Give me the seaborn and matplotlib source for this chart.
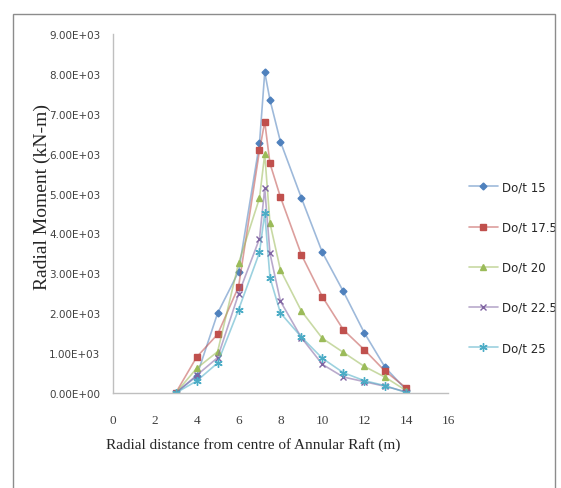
import matplotlib
matplotlib.use("Agg")
import matplotlib.pyplot as plt
import seaborn as sns
from matplotlib.colors import to_rgba
from matplotlib.patches import Rectangle
from matplotlib.ticker import FuncFormatter, MultipleLocator

# distance from centre (m)
radial_dist = [3, 4, 5, 6, 7, 7.25, 7.5, 8, 9, 10, 11, 12, 13, 14]

# radial moment (kN-m) for each Do/t ratio
do_t_15 = [0, 420, 2000, 3040, 6260, 8040, 7350, 6300, 4890, 3525, 2548, 1512, 640, 80]
do_t_17_5 = [0, 900, 1470, 2665, 6080, 6800, 5756, 4912, 3467, 2414, 1587, 1086, 545, 130]
do_t_20 = [0, 618, 1036, 3250, 4887, 5990, 4260, 3083, 2055, 1370, 1019, 668, 395, 60]
do_t_22_5 = [0, 443, 885, 2481, 3870, 5130, 3500, 2300, 1387, 718, 401, 284, 167, 30]
do_t_25 = [0, 300, 752, 2088, 3525, 4510, 2890, 2005, 1403, 869, 510, 309, 184, 10]

labels = ["Do/t 15", "Do/t 17.5", "Do/t 20", "Do/t 22.5", "Do/t 25"]
series = [do_t_15, do_t_17_5, do_t_20, do_t_22_5, do_t_25]
colors = ["#4F81BD", "#C0504D", "#9BBB59", "#8064A2", "#4BACC6"]
markers = ["D", "s", "^", "x", (6, 2, 0)]
msizes = [3.5, 5, 5, 5, 6]

sns.set_style("white")
plt.rcParams["font.family"] = ["Liberation Sans Narrow", "DejaVu Sans"]

fig = plt.figure(figsize=(5.61, 4.89), dpi=100)
ax = fig.add_axes([0.2012, 0.1943, 0.5974, 0.7341])

for y, lab, c, m, ms in zip(series, labels, colors, markers, msizes):
    sns.lineplot(x=radial_dist, y=y, ax=ax, color=c, marker=m, markersize=ms,
                 markeredgecolor=c, markerfacecolor=c, markeredgewidth=1.0,
                 linewidth=1.2, label=lab)
    ax.lines[-1].set_color(to_rgba(c, 0.55))

ax.set_xlim(0, 16)
ax.set_ylim(0, 9000)
ax.xaxis.set_major_locator(MultipleLocator(2))
ax.yaxis.set_major_locator(MultipleLocator(1000))
ax.yaxis.set_major_formatter(FuncFormatter(lambda v, p: f"{v:.2E}"))
ax.tick_params(axis="both", length=0, colors="#404040")
ax.tick_params(axis="x", pad=15)
ax.tick_params(axis="y", pad=9, labelsize=7.5)
for t in ax.get_xticklabels():
    t.set_family("Liberation Serif")
    t.set_fontsize(9.5)

for s in ["top", "right"]:
    ax.spines[s].set_visible(False)
for s in ["left", "bottom"]:
    ax.spines[s].set_color("#BFBFBF")
    ax.spines[s].set_linewidth(1.0)

ax.set_xlabel("Radial distance from centre of Annular Raft (m)",
              family="Liberation Serif", fontsize=11)
ax.xaxis.set_label_coords(0.418, -0.122)
ax.set_ylabel("Radial Moment (kN-m)", family="Liberation Serif", fontsize=14)
ax.yaxis.set_label_coords(-0.185, 0.55)

leg = ax.legend(loc="center left", bbox_to_anchor=(1.03, 0.35), frameon=False,
                fontsize=8.5, labelspacing=2.3, handlelength=2.5,
                handletextpad=0.3)

# outer chart border
fig.patches.append(Rectangle((0.0232, -0.02), 0.966, 0.9893, transform=fig.transFigure,
                             fill=False, edgecolor="#8C8C8C", linewidth=1.0))

fig.savefig("out.png", dpi=100)
